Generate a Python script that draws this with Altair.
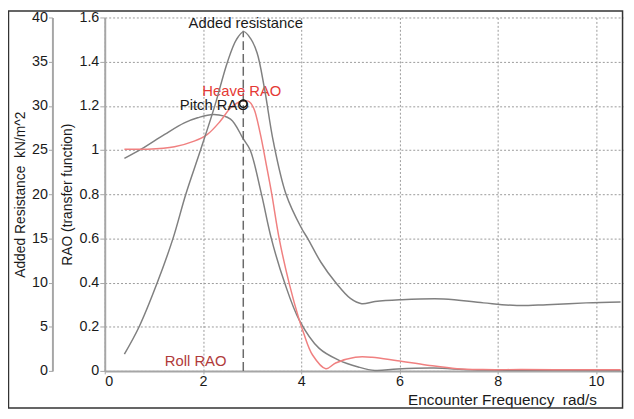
import altair as alt
import pandas as pd

# ---- data ----
ar_freq = [0.4, 0.7, 1.07, 1.39, 1.65, 1.95, 2.24, 2.5, 2.68, 2.83, 2.97, 3.1, 3.25, 3.43,
           3.69, 4.0, 4.13, 4.4, 4.7, 5.0, 5.23, 5.5, 6.0, 6.9, 7.71, 8.39, 9.0, 9.8, 10.5]
ar_vals = [1.9, 5.0, 10.0, 15.0, 20.0, 25.0, 30.0, 35.0, 37.5, 38.4, 37.6, 36.0, 32.0, 26.0,
           20.0, 16.2, 15.0, 12.3, 10.0, 8.2, 7.6, 7.85, 8.05, 8.15, 7.7, 7.4, 7.5, 7.7, 7.8]

pitch_freq = [0.4, 0.75, 1.22, 1.62, 1.89, 2.22, 2.56, 2.82, 2.96, 3.19, 3.39, 3.66, 3.96,
              4.36, 4.76, 5.16, 5.5, 5.96, 6.7, 7.45, 8.5, 10.5]
pitch_vals = [0.962, 1.005, 1.071, 1.123, 1.146, 1.161, 1.14, 1.05, 1.0, 0.8, 0.6, 0.4, 0.23,
              0.103, 0.049, 0.018, 0.002, 0.009, 0.013, 0.005, 0.003, 0.002]

heave_freq = [0.4, 0.87, 1.42, 1.82, 2.09, 2.35, 2.56, 2.76, 2.93, 3.03, 3.16, 3.3, 3.4, 3.55,
              3.75, 3.96, 4.05, 4.23, 4.5, 4.7, 5.1, 5.44, 5.96, 6.57, 7.17, 7.7, 8.5, 9.5, 10.5]
heave_vals = [1.004, 1.004, 1.015, 1.04, 1.071, 1.13, 1.19, 1.22, 1.22, 1.19, 1.08, 0.92, 0.80,
              0.60, 0.40, 0.23, 0.17, 0.072, 0.01, 0.036, 0.062, 0.062, 0.046, 0.026, 0.01,
              0.006, 0.006, 0.005, 0.005]

peak_freq = [2.82]
peak_ar_rao = [1.54]
marker_freq = [2.82]
marker_rao = [1.21]

label_text = ["Added resistance", "Heave RAO", "Pitch RAO", "Roll RAO"]
label_x = [2.87, 2.79, 2.23, 1.85]
label_y = [1.575, 1.265, 1.202, 0.045]
label_color = ["#1a1a1a", "#e53935", "#1a1a1a", "#b03a3a"]

x_ticks = [0, 2, 4, 6, 8, 10]
rao_ticks = [0, 0.2, 0.4, 0.6, 0.8, 1.0, 1.2, 1.4, 1.6]
ar_ticks = [0, 5, 10, 15, 20, 25, 30, 35, 40]

# ---- tables ----
ar_df = pd.DataFrame({"freq": ar_freq, "ar": ar_vals})
rao_df = pd.concat([
    pd.DataFrame({"freq": pitch_freq, "rao": pitch_vals, "series": "Pitch RAO"}),
    pd.DataFrame({"freq": heave_freq, "rao": heave_vals, "series": "Heave RAO"}),
], ignore_index=True)
rule_df = pd.DataFrame({"freq": peak_freq, "rao": [0.0], "y1": peak_ar_rao})
marker_df = pd.DataFrame({"freq": marker_freq, "rao": marker_rao})
label_df = pd.DataFrame({"freq": label_x, "rao": label_y, "text": label_text, "color": label_color})

W, H = 525, 358
FONT = "Liberation Sans"
AXC = "#a6a6a6"

xscale = alt.Scale(domain=[0, 10.55], nice=False, zero=False)
rao_scale = alt.Scale(domain=[0, 1.6], nice=False)
ar_scale = alt.Scale(domain=[0, 40], nice=False)

x_axis = alt.Axis(values=x_ticks, title="Encounter Frequency\u00a0 rad/s", grid=True,
                  gridDash=[2, 2], gridColor="#999999", domainColor=AXC, domainWidth=2,
                  tickSize=3, tickColor=AXC, labelFontSize=14.5, labelColor="#1a1a1a",
                  labelPadding=1, titleFontSize=15.5, titleFontWeight="normal",
                  titleColor="#1a1a1a", titleX=498, titleY=29, titleAlign="right",
                  titleBaseline="middle")

rao_axis = alt.Axis(values=rao_ticks, format="~g", title="RAO (transfer function)", grid=True,
                    gridDash=[2, 2], gridColor="#999999", domainColor=AXC, domainWidth=2,
                    tickSize=5, tickColor=AXC, labelFontSize=14.5, labelColor="#1a1a1a",
                    labelPadding=1, titleFontSize=14, titleFontWeight="normal",
                    titleColor="#1a1a1a", titleX=-38, titleY=179, titleAngle=-90,
                    titleAlign="center", titleBaseline="middle")

ar_axis = alt.Axis(values=ar_ticks, orient="left", offset=53, title="Added Resistance\u00a0 kN/m^2",
                   grid=False, domainColor=AXC, domainWidth=2, tickSize=4, tickColor=AXC,
                   labelFontSize=14.5, labelColor="#1a1a1a", labelPadding=1, titleFontSize=14,
                   titleFontWeight="normal", titleColor="#1a1a1a", titleX=-32, titleY=179,
                   titleAngle=-90, titleAlign="center", titleBaseline="middle")

X = alt.X("freq:Q", scale=xscale, axis=x_axis, title="Encounter Frequency\u00a0 rad/s")
Y = alt.Y("rao:Q", scale=rao_scale, axis=rao_axis, title="RAO (transfer function)")

rao_lines = alt.Chart(rao_df).mark_line(strokeWidth=1.5, interpolate="catmull-rom").encode(
    x=X, y=Y,
    color=alt.Color("series:N", scale=alt.Scale(domain=["Pitch RAO", "Heave RAO"],
                                                range=["#808080", "#f08080"]), legend=None),
    detail="series:N",
)

rule = alt.Chart(rule_df).mark_rule(strokeDash=[9, 4], color="#6a6a6a", strokeWidth=1.5).encode(
    x=X, y=Y, y2="y1:Q",
)

marker = alt.Chart(marker_df).mark_point(shape="circle", filled=False, size=55, color="#111111",
                                         strokeWidth=1.3, opacity=1).encode(x=X, y=Y)

labels = alt.Chart(label_df).mark_text(fontSize=15, font=FONT, align="center",
                                       baseline="middle").encode(
    x=X, y=Y, text="text:N", color=alt.Color("color:N", scale=None),
)

frame = alt.Chart(pd.DataFrame({"k": [0]})).mark_rect(fillOpacity=0, stroke="#333333",
                                                      strokeWidth=1.5).encode(
    x=alt.value(-97.5), x2=alt.value(524.5), y=alt.value(-6.5), y2=alt.value(395.5)
)

rao_layer = alt.layer(rao_lines, rule, marker, labels)

ar_line = alt.Chart(ar_df).mark_line(strokeWidth=1.5, color="#808080",
                                     interpolate="catmull-rom").encode(
    x=X,
    y=alt.Y("ar:Q", scale=ar_scale, axis=ar_axis, title="Added Resistance\u00a0 kN/m^2"),
)

chart = alt.layer(rao_layer, ar_line, frame).resolve_scale(y="independent").properties(
    width=W, height=H,
    autosize=alt.AutoSizeParams(type="none"),
    padding={"left": 98, "top": 7, "right": 3, "bottom": 38},
).configure(font=FONT).configure_view(stroke="transparent")

chart.save("out.html", embed_options={"renderer": "svg", "actions": False})
